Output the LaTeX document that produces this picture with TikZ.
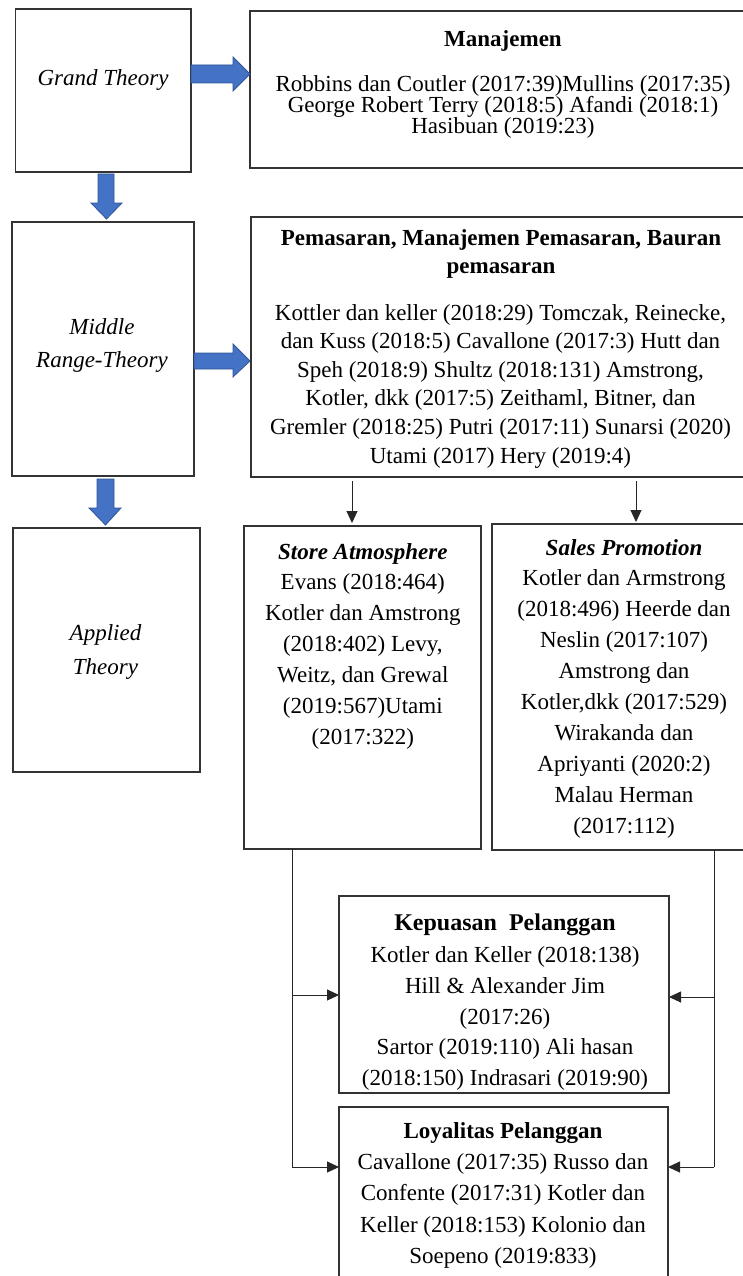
\documentclass[tikz,border=0pt]{standalone}
\usepackage{fontspec}
\setmainfont{Liberation Serif}
\usetikzlibrary{arrows.meta,calc}
\definecolor{blueA}{HTML}{4472C4}
\definecolor{blueB}{HTML}{2F5597}
\newcommand\mys{\rule{0pt}{18pt}}
\begin{document}
\setlength{\lineskiplimit}{-50pt}
\begin{tikzpicture}[x=1pt,y=-1pt,
  box/.style={draw=black!80, line width=1.2pt, inner sep=0pt, outer sep=0pt, rectangle},
  txt/.style={inner sep=0pt, outer sep=0pt, align=center, anchor=north,
    font=\fontsize{23}{#1}\selectfont},
  one/.style={inner sep=0pt, outer sep=0pt, anchor=base, font=\fontsize{23}{23}\selectfont},
  blk/.style={fill=blueA, draw=blueB, line width=0.8pt, line join=miter},
  arr/.style={draw=black!85, line width=1pt, -{Triangle[length=12pt,width=11pt]}},
  ln/.style={draw=black!85, line width=1pt}]
\useasboundingbox (0,0) rectangle (743,1276);
\clip (0,0) rectangle (743,1276);

% boxes
\node[box, minimum width=175.3pt, minimum height=163pt] (GT) at (103.35,90.5) {};
\node[box, minimum width=500pt, minimum height=157pt] (MJ) at (500,89.5) {};
\node[box, minimum width=182pt, minimum height=254pt] (MR) at (103,349) {};
\node[box, minimum width=499pt, minimum height=260pt] (PM) at (500.5,347) {};
\node[box, minimum width=187pt, minimum height=244pt] (AP) at (106.5,650) {};
\node[box, minimum width=237pt, minimum height=323pt] (SA) at (362.5,687.5) {};
\node[box, minimum width=258pt, minimum height=326pt] (SP) at (621,687) {};
\node[box, minimum width=330pt, minimum height=197pt] (KP) at (504,994.5) {};
\node[box, minimum width=329pt, minimum height=183pt] (LP) at (503.5,1198.5) {};

% texts
\node[one, font=\fontsize{23}{23}\selectfont\itshape] (GTt) at (103,86) {Grand Theory};
\node[txt=33, font=\fontsize{23}{33}\selectfont\itshape] (MRt) at (102,316) {\mys Middle\\Range-Theory};
\node[txt=33.3, font=\fontsize{23}{33.3}\selectfont\itshape] (APt) at (105.5,622.7) {\mys Applied\\Theory};

\node[one, font=\fontsize{23}{23}\selectfont\bfseries] (MJh) at (503,47) {Manajemen};
\node[txt=20.8] (MJt) at (503,73.7) {\mys Robbins dan Coutler (2017:39)Mullins (2017:35)\\
George Robert Terry (2018:5) Afandi (2018:1)\\
Hasibuan (2019:23)};

\node[txt=27.6, font=\fontsize{23}{27.6}\selectfont\bfseries] (PMh) at (501,227.7) {\mys Pemasaran, Manajemen Pemasaran, Bauran\\pemasaran};
\node[txt=28.6] (PMt) at (500.5,302) {\mys Kottler dan keller (2018:29) Tomczak, Reinecke,\\
dan Kuss (2018:5) Cavallone (2017:3) Hutt dan\\
Speh (2018:9) Shultz (2018:131) Amstrong,\\
Kotler, dkk (2017:5) Zeithaml, Bitner, dan\\
Gremler (2018:25) Putri (2017:11) Sunarsi (2020)\\
Utami (2017) Hery (2019:4)};

\node[txt=30.9] (SAt) at (362.8,541) {\mys\textbf{\textit{Store Atmosphere}}\\
Evans (2018:464)\\
Kotler dan Amstrong\\
(2018:402) Levy,\\
Weitz, dan Grewal\\
(2019:567)Utami\\
(2017:322)};

\node[txt=30.9] (SPt) at (624,537) {\mys\textbf{\textit{Sales Promotion}}\\
Kotler dan Armstrong\\
(2018:496) Heerde dan\\
Neslin (2017:107)\\
Amstrong dan\\
Kotler,dkk (2017:529)\\
Wirakanda dan\\
Apriyanti (2020:2)\\
Malau Herman\\
(2017:112)};

\node[one, font=\fontsize{24}{24}\selectfont\bfseries] (KPh) at (505,930) {Kepuasan\ \ Pelanggan};
\node[txt=30.8] (KPt) at (505,944.5) {\mys Kotler dan Keller (2018:138)\\
Hill \& Alexander Jim\\
(2017:26)\\
Sartor (2019:110) Ali hasan\\
(2018:150) Indrasari (2019:90)};

\node[txt=31.3] (LPt) at (503,1120.3) {\mys\textbf{Loyalitas Pelanggan}\\
Cavallone (2017:35) Russo dan\\
Confente (2017:31) Kotler dan\\
Keller (2018:153) Kolonio dan\\
Soepeno (2019:833)};

% blue block arrows
\draw[blk] (GT.east |- 0,65) -- ($(MJ.west |- 0,74)+(-17,-9)$) -- ($(MJ.west |- 0,74)+(-17,-17)$)
  -- (MJ.west |- 0,74) -- ($(MJ.west |- 0,74)+(-17,17)$) -- ($(MJ.west |- 0,74)+(-17,9)$)
  -- (GT.east |- 0,83) -- cycle;
\draw[blk] (MR.east |- 0,353) -- ($(PM.west |- 0,361)+(-18,-8)$) -- ($(PM.west |- 0,361)+(-18,-17)$)
  -- ($(PM.west |- 0,361)+(-1,0)$) -- ($(PM.west |- 0,361)+(-18,16)$) -- ($(PM.west |- 0,361)+(-18,8)$)
  -- (MR.east |- 0,369) -- cycle;
\draw[blk] ($(98,0 |- GT.south)+(0,2)$) -- ($(106.5,0 |- MR.north)+(-8.5,-19)$) -- ($(106.5,0 |- MR.north)+(-15.5,-19)$)
  -- ($(106.5,0 |- MR.north)+(0,-3)$) -- ($(106.5,0 |- MR.north)+(15.5,-19)$) -- ($(106.5,0 |- MR.north)+(7.5,-19)$)
  -- ($(114,0 |- GT.south)+(0,2)$) -- cycle;
\draw[blk] ($(97,0 |- MR.south)+(0,3)$) -- ($(105.5,0 |- AP.north)+(-8.5,-20)$) -- ($(105.5,0 |- AP.north)+(-16.5,-20)$)
  -- ($(105.5,0 |- AP.north)+(0,-3)$) -- ($(105.5,0 |- AP.north)+(15.5,-20)$) -- ($(105.5,0 |- AP.north)+(8.5,-20)$)
  -- ($(114,0 |- MR.south)+(0,3)$) -- cycle;

% thin arrows
\draw[arr] ($(PM.south -| 352,0)+(0,4)$) -- ($(SA.north -| 352,0)+(0,-3)$);
\draw[arr] ($(PM.south -| 636,0)+(0,4)$) -- ($(SP.north -| 636,0)+(0,-2)$);

\coordinate (L1) at (292,995);
\coordinate (L2) at (292,1167);
\coordinate (R1) at (714,997);
\coordinate (R2) at (714,1167);
\draw[ln] (SA.south -| L1) -- (L2);
\draw[arr] (L1) -- (KP.west |- L1);
\draw[arr] (L2) -- (LP.west |- L2);
\draw[ln] (SP.south -| R1) -- (R2);
\draw[arr] (R1) -- (KP.east |- R1);
\draw[arr] (R2) -- (LP.east |- R2);
\end{tikzpicture}
\end{document}
